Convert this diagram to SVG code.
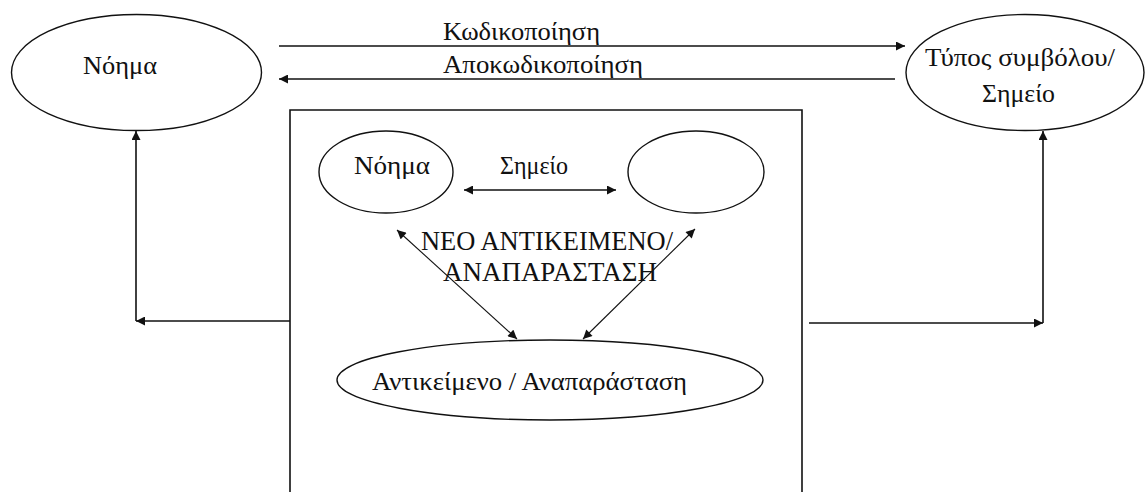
<svg xmlns="http://www.w3.org/2000/svg" width="1146" height="492" viewBox="0 0 1146 492">
<style>
.n{fill:#fff;stroke:#111;stroke-width:1.4}
.t{font-family:"Liberation Serif","DejaVu Serif",serif;font-size:25px;fill:#111}
.tc{font-family:"Liberation Serif","DejaVu Serif",serif;font-size:27px;fill:#111}
.c{fill:none;stroke:#111;stroke-width:1.6}
.d{fill:none;stroke:#111;stroke-width:1.1}
</style>
<defs>
<marker id="ah" viewBox="0 0 10 10" refX="10" refY="5" markerWidth="10" markerHeight="9" markerUnits="userSpaceOnUse" orient="auto-start-reverse">
<path d="M0,0 L10,5 L0,10 z" fill="#111"/>
</marker>
</defs>
<rect width="1146" height="492" fill="#fff"/>
<g id="box">
<path class="c" d="M290,500 L290,110 L802,110 L802,500"/>
</g>
<g id="node-noima">
<ellipse class="n" cx="136.5" cy="72.5" rx="125" ry="58"/>
<text class="t" x="83" y="74" textLength="74" lengthAdjust="spacingAndGlyphs">Νόημα</text>
</g>
<g id="node-typos">
<ellipse class="n" cx="1025" cy="72.5" rx="119" ry="58"/>
<text class="t" x="925" y="66" textLength="190" lengthAdjust="spacingAndGlyphs">Τύπος συμβόλου/</text>
<text class="t" x="982" y="102" textLength="73" lengthAdjust="spacingAndGlyphs">Σημείο</text>
</g>
<g id="node-inner-noima">
<ellipse class="n" cx="386" cy="172" rx="67" ry="41"/>
<text class="t" x="354" y="174" textLength="76" lengthAdjust="spacingAndGlyphs">Νόημα</text>
</g>
<g id="node-inner-empty">
<ellipse class="n" cx="696" cy="172" rx="68" ry="41"/>
</g>
<g id="node-antikeimeno">
<ellipse class="n" cx="550" cy="380" rx="213" ry="40"/>
<text class="t" x="372" y="390" textLength="315" lengthAdjust="spacingAndGlyphs">Αντικείμενο / Αναπαράσταση</text>
</g>
<g id="labels">
<text class="t" x="443" y="40" textLength="157" lengthAdjust="spacingAndGlyphs">Κωδικοποίηση</text>
<text class="t" x="443" y="73" textLength="200" lengthAdjust="spacingAndGlyphs">Αποκωδικοποίηση</text>
<text class="t" x="500" y="174" textLength="68" lengthAdjust="spacingAndGlyphs">Σημείο</text>
<text class="tc" x="421" y="250" textLength="252" lengthAdjust="spacingAndGlyphs">ΝΕΟ ΑΝΤΙΚΕΙΜΕΝΟ/</text>
<text class="tc" x="443" y="281" textLength="214" lengthAdjust="spacingAndGlyphs">ΑΝΑΠΑΡΑΣΤΑΣΗ</text>
</g>
<g id="connectors">
<line class="c" x1="279" y1="46" x2="905" y2="46" marker-end="url(#ah)"/>
<line class="c" x1="895" y1="79" x2="279" y2="79" marker-end="url(#ah)"/>
<line class="c" x1="464" y1="190" x2="616" y2="190" marker-start="url(#ah)" marker-end="url(#ah)"/>
<line class="d" x1="397" y1="230" x2="517" y2="339" marker-start="url(#ah)" marker-end="url(#ah)"/>
<line class="d" x1="695" y1="229" x2="583" y2="339" marker-start="url(#ah)" marker-end="url(#ah)"/>
<line class="c" x1="290" y1="321" x2="136" y2="321" marker-end="url(#ah)"/>
<line class="c" x1="136" y1="321" x2="136" y2="131" marker-end="url(#ah)"/>
<line class="c" x1="809" y1="323" x2="1043" y2="323" marker-end="url(#ah)"/>
<line class="c" x1="1043" y1="323" x2="1043" y2="131" marker-end="url(#ah)"/>
</g>
</svg>
